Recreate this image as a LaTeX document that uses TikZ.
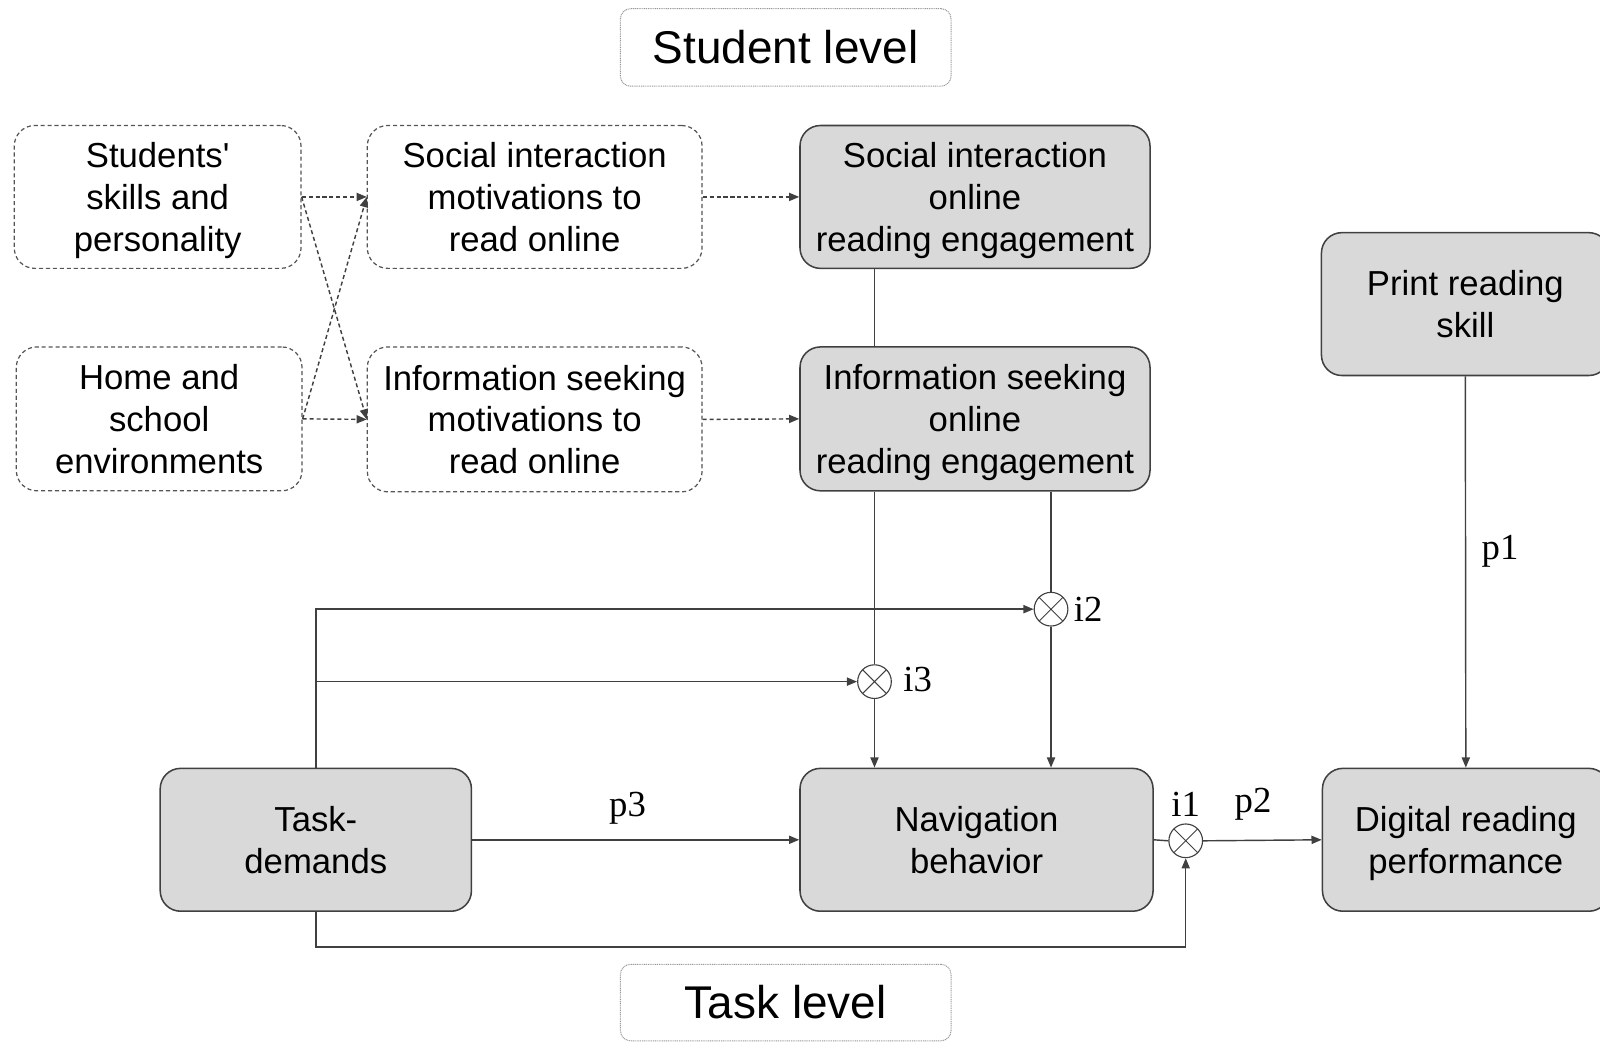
\documentclass[tikz,border=0pt]{standalone}
\usepackage{fontspec}
\setmainfont{Liberation Sans}[Ligatures=TeXOff]
\newfontfamily\lblfont{Liberation Serif}
\usetikzlibrary{arrows.meta,calc}
\definecolor{boxfill}{HTML}{D9D9D9}
\definecolor{boxline}{HTML}{404040}
\definecolor{dashline}{HTML}{555555}
\tikzset{
  txt/.style={align=center,font=\fontsize{17}{20.5}\selectfont,inner sep=0pt,text depth=0pt},
  graybox/.style={txt,draw=boxline,line width=0.75pt,fill=boxfill,rounded corners=10pt},
  dashbox/.style={txt,draw=dashline,line width=0.6pt,dash pattern=on 2pt off 1.4pt,rounded corners=10pt},
  levelbox/.style={align=center,font=\fontsize{22.5}{26}\selectfont,inner sep=0pt,
    draw=gray!80,line width=0.5pt,dash pattern=on 0.5pt off 0.4pt,rounded corners=5pt},
  conn/.style={draw=boxline,line width=0.7pt},
  arr/.style={conn,-{Triangle[length=5pt,width=4pt]}},
  dasharr/.style={arr,dash pattern=on 2pt off 1.4pt},
  otimes/.style={circle,draw=boxline,line width=0.55pt,minimum size=16.5pt,inner sep=0pt,
    path picture={\draw[boxline,line width=0.45pt]
      (path picture bounding box.north east) -- (path picture bounding box.south west)
      (path picture bounding box.north west) -- (path picture bounding box.south east);}},
  lbl/.style={font=\lblfont\fontsize{18}{20}\selectfont,inner sep=0pt}
}
\begin{document}
\begin{tikzpicture}[x=0.5pt,y=-0.5pt]
\useasboundingbox (0,0) rectangle (1568,1021);

% level headings
\node[levelbox,minimum width=162pt,minimum height=38pt] (slevel) at (770,46.5) {Student level};
\node[levelbox,minimum width=162pt,minimum height=37.5pt] (tlevel) at (770,982.5) {Task level};

% antecedents and motivations
\node[dashbox,minimum width=140.5pt,minimum height=70pt] (stu) at (154.5,193) {Students'\\skills and\\personality};
\node[dashbox,minimum width=140pt,minimum height=70.5pt] (home) at (156,410.5) {Home and\\school\\environments};
\node[dashbox,minimum width=164pt,minimum height=70pt] (simot) at (524,193) {Social interaction\\motivations to\\read online};
\node[dashbox,minimum width=164pt,minimum height=71pt] (ismot) at (524,411) {Information seeking\\motivations to\\read online};

% engagement, skill and outcomes
\node[graybox,minimum width=171.5pt,minimum height=70pt] (sieng) at (955.5,193) {Social interaction\\online\\reading engagement};
\node[graybox,minimum width=171.5pt,minimum height=70.5pt] (iseng) at (955.5,410.5) {Information seeking\\online\\reading engagement};
\node[graybox,minimum width=141pt,minimum height=70pt] (prs) at (1436,298) {Print reading\\skill};
\node[graybox,minimum width=152.5pt,minimum height=70pt] (task) at (309.5,823) {Task-\\demands};
\node[graybox,minimum width=173pt,minimum height=70pt] (nav) at (957,823) {Navigation\\behavior};
\node[graybox,minimum width=140.5pt,minimum height=70pt] (drp) at (1436.5,823) {Digital reading\\performance};

% interaction points
\node[otimes] (i3) at (857,668) {};
\node[otimes] (i2) at (1030,597) {};
\node[otimes] (i1) at (1162,824) {};
\coordinate (bend) at (1162,928);

% dashed paths among antecedents and motivations
\draw[dasharr] (stu.east) -- (simot.west);
\draw[dasharr] (stu.east) -- (ismot.west);
\draw[dasharr] (home.east) -- (simot.west);
\draw[dasharr] (home.east) -- (ismot.west);
\draw[dasharr] (simot.east) -- (sieng.west);
\draw[dasharr] (ismot.east) -- (iseng.west);

% engagement links
\draw[conn] (sieng.south -| i3) -- (iseng.north -| i3);
\draw[conn] (iseng.south -| i3) -- (i3.north);
\draw[arr] (i3.south) -- (nav.north -| i3);
\draw[conn] (iseng.south -| i2) -- (i2.north);
\draw[arr] (i2.south) -- (nav.north -| i2);

% task demands
\draw[arr] (task.north) |- (i2.west);
\draw[arr] (task.north |- i3) -- (i3.west);
\draw[arr] (task.east) -- (nav.west);
\draw[arr] (task.south) |- (bend) -- (i1.south);

% outcome paths
\draw[conn] (nav.east) -- (i1.west);
\draw[arr] (i1.east) -- (drp.west);
\draw[arr] (prs.south) -- (drp.north);

% path labels
\node[lbl] (lp3) at (615,792) {p3};
\node[lbl] (lp2) at (1228,788) {p2};
\node[lbl] (li1) at (1162,788) {i1};
\node[lbl] (lp1) at (1470,540) {p1};
\node[lbl,anchor=west] (li2) at (1052,597) {i2};
\node[lbl,anchor=west] (li3) at (885,666) {i3};
\end{tikzpicture}
\end{document}
